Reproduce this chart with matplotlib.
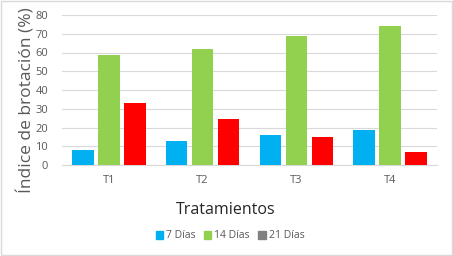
import matplotlib
matplotlib.use("Agg")
import matplotlib.pyplot as plt
from matplotlib.patches import Patch, Rectangle
import numpy as np

categories = ["T1", "T2", "T3", "T4"]
dias7 = [8.0, 12.8, 16.0, 18.7]
dias14 = [58.7, 61.9, 68.8, 74.1]
dias21 = [33.0, 24.7, 15.1, 7.0]
series_names = ["7 Días", "14 Días", "21 Días"]
yticks = [0, 10, 20, 30, 40, 50, 60, 70, 80]

plt.rcParams['font.family'] = ['Open Sans', 'DejaVu Sans']
txt = "#595959"

fig = plt.figure(figsize=(4.53, 2.56), dpi=100)
fig.patches.append(Rectangle((0.002, 0.004), 0.995, 0.992, transform=fig.transFigure,
                             fill=False, edgecolor="#D9D9D9", linewidth=1.0))
ax = fig.add_axes([62/453, 1-165/256, 375/453, 150/256])

x = np.arange(len(categories))
w = 0.23
step = 0.277
ax.bar(x - step, dias7, w, color="#00B0F0", zorder=3)
ax.bar(x, dias14, w, color="#92D050", zorder=3)
ax.bar(x + step, dias21, w, color="#FF0000", zorder=3)

ax.set_xlim(-0.5, 3.5)
ax.set_ylim(0, 80)
ax.set_yticks(yticks)
ax.set_xticks(x)
ax.set_xticklabels(categories)
ax.grid(axis="y", color="#D9D9D9", linewidth=0.8, zorder=0)
for s in ["top", "right", "left"]:
    ax.spines[s].set_visible(False)
ax.spines["bottom"].set_color("#D9D9D9")
ax.tick_params(length=0, colors=txt, labelsize=8)
ax.tick_params(axis="y", pad=10)
ax.tick_params(axis="x", pad=7)

fig.text(27/453, 1-100/256, "Índice de brotación (%)", rotation=90, fontsize=12.5,
         color=txt, ha="center", va="center")
fig.text(226/453, 1-210/256, "Tratamientos", fontsize=11.5, color="#262626",
         ha="center", va="center")

handles = [Patch(color="#00B0F0"), Patch(color="#92D050"), Patch(color="#808080")]
fig.legend(handles, series_names, loc="center", bbox_to_anchor=(230/453, 1-236/256),
           ncol=3, frameon=False, fontsize=7.5, labelcolor=txt,
           handlelength=0.7, handleheight=0.7, handletextpad=0.3, columnspacing=0.8)

fig.savefig("out.png", dpi=100)
